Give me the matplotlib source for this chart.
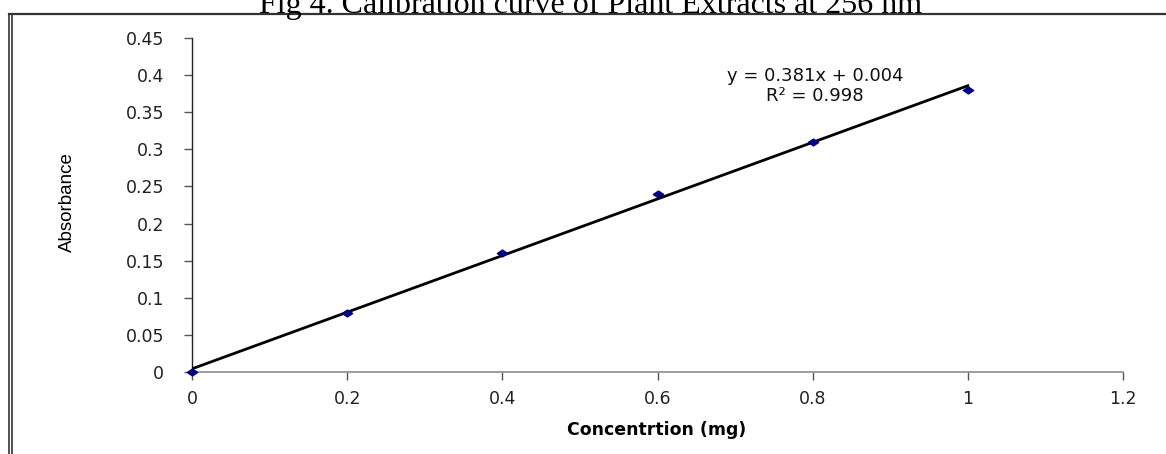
import numpy as np
import matplotlib
matplotlib.use("Agg")
import matplotlib.pyplot as plt
from matplotlib.lines import Line2D
from matplotlib.path import Path

# data
conc = [0.0, 0.2, 0.4, 0.6, 0.8, 1.0]
absorb = [0.0, 0.08, 0.16, 0.24, 0.31, 0.38]
y_ticks = [0, 0.05, 0.1, 0.15, 0.2, 0.25, 0.3, 0.35, 0.4, 0.45]
x_ticks = [0, 0.2, 0.4, 0.6, 0.8, 1.0, 1.2]

W, H = 1166, 454
fig = plt.figure(figsize=(W / 100, H / 100), dpi=100)
ax = fig.add_axes([192 / W, 1 - 372 / H, (1123 - 192) / W, (372 - 38) / H])

# linear trend line (fit from the points)
slope, icpt = np.polyfit(conc, absorb, 1)
xs = np.array([conc[0], conc[-1]])
ax.plot(xs, slope * xs + icpt, color="black", lw=2.0, zorder=3)

# wide diamond marker (chart was stretched horizontally)
diamond = Path([(-1.5, 0), (0, 1), (1.5, 0), (0, -1), (-1.5, 0)],
               [Path.MOVETO, Path.LINETO, Path.LINETO, Path.LINETO, Path.CLOSEPOLY])
ax.scatter(conc, absorb, marker=diamond, s=55, color="#000080", zorder=4, clip_on=False)

ax.set_xlim(0, 1.2)
ax.set_ylim(0, 0.45)
ax.set_xticks(x_ticks)
ax.set_xticklabels([f"{v:g}" for v in x_ticks])
ax.set_yticks(y_ticks)
ax.set_yticklabels([f"{v:g}" for v in y_ticks])

for s in ["top", "right"]:
    ax.spines[s].set_visible(False)
ax.spines["left"].set_color("#222222")
ax.spines["left"].set_linewidth(1.0)
ax.spines["bottom"].set_color("#8c8c8c")
ax.spines["bottom"].set_linewidth(1.2)

ax.tick_params(axis="y", direction="out", length=6, width=1.0, color="#555555",
               pad=14, labelsize=12.5, labelcolor="#222222")
ax.tick_params(axis="x", direction="out", length=6, width=1.0, color="#555555",
               pad=7, labelsize=12.5, labelcolor="#222222")
for lab in ax.get_xticklabels() + ax.get_yticklabels():
    lab.set_family("DejaVu Sans")

ax.set_ylabel("Absorbance", fontsize=13.5, family=["Liberation Sans Narrow", "Liberation Sans"])
ax.yaxis.label.set_va("center")
ax.yaxis.set_label_coords(67 / W, 1 - 202 / H, transform=fig.transFigure)
ax.set_xlabel("Concentrtion (mg)", fontsize=12.5, fontweight="bold", family="DejaVu Sans")
ax.xaxis.label.set_va("center")
ax.xaxis.set_label_coords(657 / W, 1 - 430 / H, transform=fig.transFigure)

# trend equation
ax.text(0.803, 0.399, f"y = {slope:.3f}x + {icpt:.3f}", ha="center", va="center",
        fontsize=13, family="DejaVu Sans", color="#111111")
ax.text(0.803, 0.372, "R\u00b2 = 0.998", ha="center", va="center",
        fontsize=13, family="DejaVu Sans", color="#111111")

# title, cropped by the top of the image
fig.text(591 / W, 1 - 13 / H, "Fig 4. Calibration curve of Plant Extracts at 256 nm",
         ha="center", va="baseline", fontsize=23, family="Liberation Serif")

# outer frame lines
def fline(xp, yp, **kw):
    fig.add_artist(Line2D([x / W for x in xp], [1 - y / H for y in yp],
                          transform=fig.transFigure, **kw))

fline([8.5, W], [13.5, 13.5], color="#333333", lw=1.6)
fline([8.5, 8.5], [13.5, H], color="#333333", lw=1.2)
fline([11.5, 11.5], [13.5, H], color="#333333", lw=1.2)

fig.savefig("out.png", dpi=100)
